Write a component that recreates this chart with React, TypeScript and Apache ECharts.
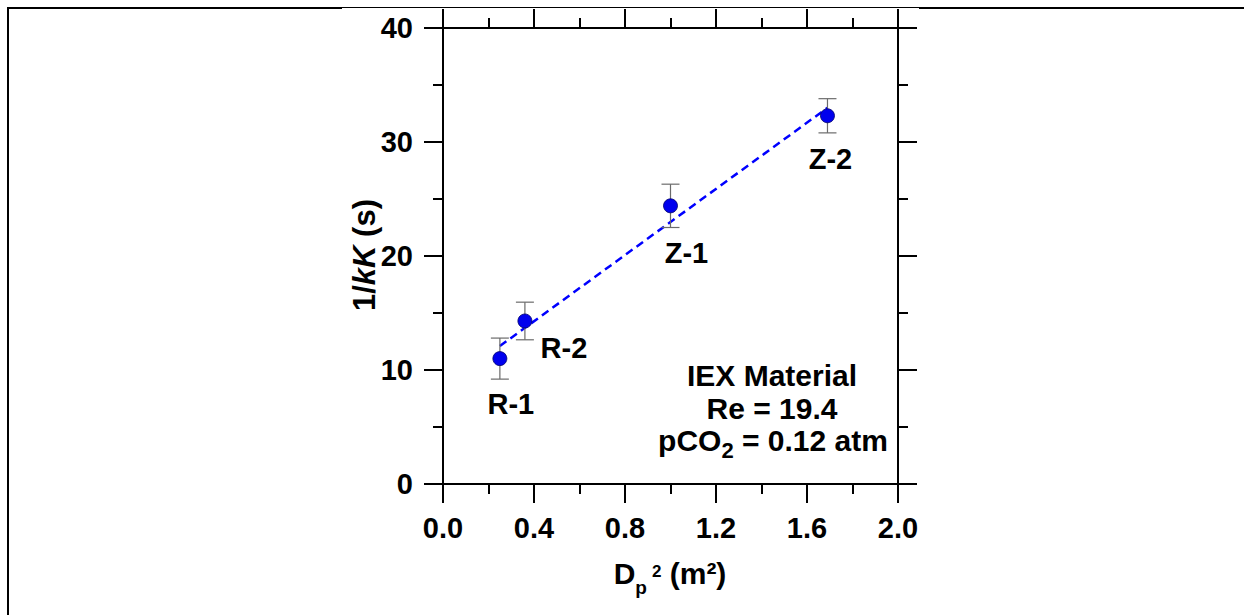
import React, { useEffect, useRef } from 'react';
import * as echarts from 'echarts';

// Samples: particle diameter squared (m²) vs 1/kK (s)
const sampleNames = ['R-1', 'R-2', 'Z-1', 'Z-2'];
const dp2 = [0.25, 0.36, 1.0, 1.69];
const invKK = [11.0, 14.3, 24.4, 32.3];
const invKKErr = [1.8, 1.65, 1.9, 1.5];

// Linear fit endpoints
const fitDp2 = [0.25, 1.69];
const fitInvKK = [12.1, 33.0];

// Axis ranges
const xMin = 0;
const xMax = 2;
const xStep = 0.4;
const yMin = 0;
const yMax = 40;
const yStep = 10;

// Conditions note
const noteTitle = 'IEX Material';
const noteRe = 'Re = 19.4';

// Label placement relative to each marker (px)
const labelShift: [number, number][] = [
  [11, 45],
  [39, 27],
  [16, 47],
  [3, 43],
];

const FONT = '"Liberation Sans", Arial, Helvetica, sans-serif';

export default function App() {
  const ref = useRef<HTMLDivElement>(null);

  useEffect(() => {
    if (!ref.current) return;
    const chart = echarts.init(ref.current, null, { renderer: 'svg' });

    const axisBase = {
      type: 'value' as const,
      axisLine: { show: true, onZero: false, lineStyle: { color: '#000', width: 2 } },
      axisTick: { show: true, inside: false, length: 19, lineStyle: { color: '#000', width: 2 } },
      minorTick: { show: true, splitNumber: 2, length: 10, lineStyle: { color: '#000', width: 2 } },
      splitLine: { show: false },
      minorSplitLine: { show: false },
    };
    const labelStyle = {
      fontSize: 29,
      fontWeight: 'bold' as const,
      fontFamily: FONT,
      color: '#000',
    };
    const bold = (size: number, extra: any = {}) => ({
      fontSize: size,
      fontWeight: 'bold',
      fontFamily: FONT,
      fill: '#000',
      ...extra,
    });

    const errData = dp2.map((x, i) => [x, invKK[i] - invKKErr[i], invKK[i] + invKKErr[i]]);

    const option: any = {
      animation: false,
      backgroundColor: '#fff',
      grid: { left: 443, top: 28, width: 455, height: 456 },
      xAxis: [
        {
          ...axisBase,
          position: 'bottom',
          min: xMin,
          max: xMax,
          interval: xStep,
          axisLabel: {
            ...labelStyle,
            margin: 29,
            formatter: (v: number) => v.toFixed(1),
          },
        },
        {
          ...axisBase,
          position: 'top',
          min: xMin,
          max: xMax,
          interval: xStep,
          axisLabel: { show: false },
        },
      ],
      yAxis: [
        {
          ...axisBase,
          position: 'left',
          min: yMin,
          max: yMax,
          interval: yStep,
          axisLabel: { ...labelStyle, margin: 30 },
        },
        {
          ...axisBase,
          position: 'right',
          min: yMin,
          max: yMax,
          interval: yStep,
          axisLabel: { show: false },
        },
      ],
      series: [
        {
          type: 'line',
          xAxisIndex: 0,
          yAxisIndex: 0,
          data: fitDp2.map((x, i) => [x, fitInvKK[i]]),
          symbol: 'none',
          lineStyle: { color: '#0000ff', width: 2.5, type: [8, 5] },
          z: 2,
        },
        {
          type: 'custom',
          xAxisIndex: 0,
          yAxisIndex: 0,
          data: errData,
          z: 3,
          renderItem: (params: any, api: any) => {
            const lo = api.coord([api.value(0), api.value(1)]);
            const hi = api.coord([api.value(0), api.value(2)]);
            const cap = 9;
            const style = { stroke: '#6b6b6b', lineWidth: 1.2 };
            return {
              type: 'group',
              children: [
                { type: 'line', shape: { x1: lo[0], y1: lo[1], x2: hi[0], y2: hi[1] }, style },
                { type: 'line', shape: { x1: hi[0] - cap, y1: hi[1], x2: hi[0] + cap, y2: hi[1] }, style },
                { type: 'line', shape: { x1: lo[0] - cap, y1: lo[1], x2: lo[0] + cap, y2: lo[1] }, style },
              ],
            };
          },
        },
        {
          type: 'scatter',
          xAxisIndex: 0,
          yAxisIndex: 0,
          symbol: 'circle',
          symbolSize: 14,
          z: 4,
          itemStyle: { color: '#0000ee', borderColor: '#00006a', borderWidth: 0.8, opacity: 1 },
          label: {
            show: true,
            position: 'inside',
            ...labelStyle,
            formatter: (p: any) => sampleNames[p.dataIndex],
          },
          data: dp2.map((x, i) => ({
            value: [x, invKK[i]],
            label: { offset: labelShift[i] },
          })),
        },
      ],
      graphic: [
        // page frame
        { type: 'line', shape: { x1: 7, y1: 8, x2: 342, y2: 8 }, style: { stroke: '#000', lineWidth: 2 } },
        { type: 'line', shape: { x1: 342, y1: 7.5, x2: 919, y2: 7.5 }, style: { stroke: '#000', lineWidth: 1 } },
        { type: 'line', shape: { x1: 919, y1: 8, x2: 1244, y2: 8 }, style: { stroke: '#000', lineWidth: 2 } },
        { type: 'line', shape: { x1: 8, y1: 7, x2: 8, y2: 615 }, style: { stroke: '#000', lineWidth: 2 } },
        // y axis title
        {
          type: 'text',
          x: 364,
          y: 255,
          rotation: Math.PI / 2,
          style: {
            text: '{n|1/}{i|kK}{n| (s)}',
            align: 'center',
            verticalAlign: 'middle',
            rich: {
              n: bold(31, { lineHeight: 31 }),
              i: bold(31, { lineHeight: 31, fontStyle: 'italic' }),
            },
          },
        },
        // x axis title
        {
          type: 'text',
          x: 670,
          y: 573,
          style: {
            text: '{n|D}{sub|p}{sup|2}{n| (m²)}',
            align: 'center',
            verticalAlign: 'middle',
            rich: {
              n: bold(30, { lineHeight: 30 }),
              sub: bold(19, { lineHeight: 30, padding: [28, 5, 0, 0] }),
              sup: bold(17, { lineHeight: 30, padding: [0, 0, 4, 0] }),
            },
          },
        },
        // conditions note
        {
          type: 'text',
          x: 772,
          y: 375,
          style: bold(30, { text: noteTitle, align: 'center', verticalAlign: 'middle' }),
        },
        {
          type: 'text',
          x: 772,
          y: 408,
          style: bold(30, { text: noteRe, align: 'center', verticalAlign: 'middle' }),
        },
        {
          type: 'text',
          x: 773,
          y: 440,
          style: {
            text: '{n|pCO}{s|2}{n| = 0.12 atm}',
            align: 'center',
            verticalAlign: 'middle',
            rich: {
              n: bold(30, { lineHeight: 30 }),
              s: bold(22, { lineHeight: 30, padding: [20, 0, 0, 0] }),
            },
          },
        },
      ],
    };

    chart.setOption(option);
    return () => chart.dispose();
  }, []);

  return (
    <div
      ref={ref}
      style={{ position: 'fixed', left: 0, top: 0, width: 1244, height: 615, background: '#fff' }}
    />
  );
}
